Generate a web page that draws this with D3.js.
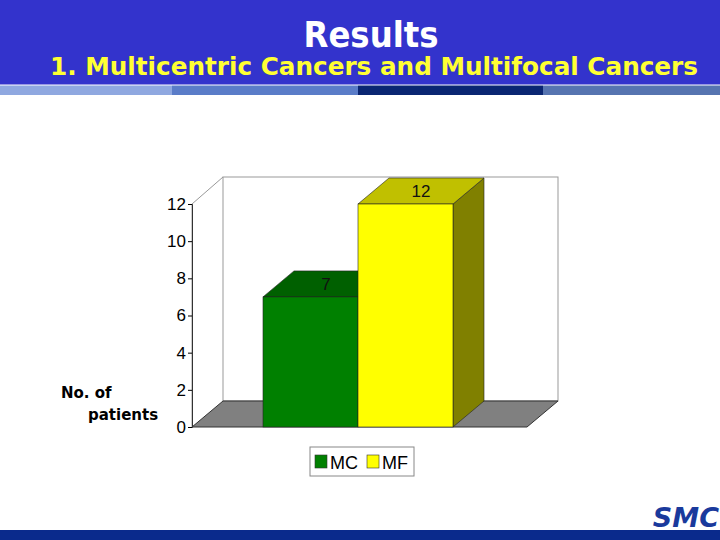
<!DOCTYPE html>
<html><head><meta charset="utf-8">
<script src="https://cdn.jsdelivr.net/npm/d3@7"></script>
<style>body{margin:0}svg{display:block}</style>
</head><body>
<script>
const categories = ['MC', 'MF'];
const values = [7, 12];
const fronts = ['#008000', '#ffff00'];
const tops = ['#006000', '#c0c000'];
const sides = ['#005000', '#808000'];
const yTicks = [0, 2, 4, 6, 8, 10, 12];

const W = 720, H = 540, dx = 31, dy = -26;
const svg = d3.select('body').append('svg').attr('width', W).attr('height', H);
svg.append('rect').attr('width', W).attr('height', H).attr('fill', '#fff');

// header
svg.append('rect').attr('width', W).attr('height', 85).attr('fill', '#3333cc');
[[0, 172, '#8fa8e0'], [172, 358, '#5a7cc8'], [358, 543, '#0a2672'], [543, 720, '#5674b0']]
	.forEach(([a, b, c]) => svg.append('rect').attr('x', a).attr('y', 85).attr('width', b - a).attr('height', 10).attr('fill', c));
svg.append('line').attr('x1', 0).attr('x2', W).attr('y1', 85).attr('y2', 85).attr('stroke', '#fff').attr('stroke-width', 1);
svg.append('text').attr('x', 371).attr('y', 47).attr('text-anchor', 'middle')
	.attr('font-family', 'DejaVu Sans Condensed, sans-serif').attr('font-weight', 'bold').attr('font-size', 36)
	.attr('fill', '#fff').text('Results');
svg.append('text').attr('x', 50).attr('y', 75)
	.attr('font-family', 'DejaVu Sans Condensed, sans-serif').attr('font-weight', 'bold').attr('font-size', 24)
	.attr('fill', '#ffff33').attr('textLength', 648).attr('lengthAdjust', 'spacingAndGlyphs')
	.text('1. Multicentric Cancers and Multifocal Cancers');

// footer
svg.append('rect').attr('x', 0).attr('y', 530).attr('width', W).attr('height', 10).attr('fill', '#0a2a8c');
svg.append('text').attr('x', 719).attr('y', 527).attr('text-anchor', 'end').attr('font-family', 'DejaVu Sans, sans-serif')
	.attr('font-weight', 'bold').attr('font-style', 'italic').attr('font-size', 27).attr('fill', '#1a3a9c').text('SMC');

// chart
const x0 = 192, x1 = 527;
const y = d3.scaleLinear().domain([0, 12]).range([427, 204]);
const x = d3.scaleBand().domain(categories).range([263, 453]).padding(0);
const g = svg.append('g');
g.append('rect').attr('x', x0 + dx).attr('y', 177).attr('width', x1 - x0).attr('height', y(0) + dy - 177)
	.attr('fill', '#fff').attr('stroke', '#999');
g.append('path').attr('d', `M${x0},${y(0)}L${x0},${y(12)}L${x0 + dx},177`).attr('fill', 'none').attr('stroke', '#999');
g.append('path').attr('d', `M${x0},${y(0)}L${x1},${y(0)}L${x1 + dx},${y(0) + dy}L${x0 + dx},${y(0) + dy}Z`)
	.attr('fill', '#808080').attr('stroke', '#333');
const ax = svg.append('g').attr('transform', `translate(${x0},0)`)
	.call(d3.axisLeft(y).tickValues(yTicks).tickSize(4).tickPadding(2));
ax.select('.domain').attr('stroke', '#333');
ax.selectAll('text').attr('font-family', 'Liberation Sans, Arial, sans-serif').attr('font-size', 17).attr('fill', '#000');

categories.forEach((c, i) => {
	const bx = x(c), bw = x.bandwidth(), by = y(values[i]), b0 = y(0);
	g.append('path').attr('d', `M${bx + bw},${b0}L${bx + bw + dx},${b0 + dy}L${bx + bw + dx},${by + dy}L${bx + bw},${by}Z`)
		.attr('fill', sides[i]).attr('stroke', '#222').attr('stroke-width', 0.6);
	g.append('path').attr('d', `M${bx},${by}L${bx + dx},${by + dy}L${bx + bw + dx},${by + dy}L${bx + bw},${by}Z`)
		.attr('fill', tops[i]).attr('stroke', '#222').attr('stroke-width', 0.6);
	g.append('rect').attr('x', bx).attr('y', by).attr('width', bw).attr('height', b0 - by)
		.attr('fill', fronts[i]).attr('stroke', '#222').attr('stroke-width', 0.6);
	g.append('text').attr('x', bx + bw / 2 + dx / 2).attr('y', by + dy / 2 + 6).attr('text-anchor', 'middle')
		.attr('font-family', 'Liberation Sans, Arial, sans-serif').attr('font-size', 17).attr('fill', '#111').text(values[i]);
});

svg.append('text').attr('font-family', 'Verdana, DejaVu Sans, sans-serif').attr('font-weight', 'bold').attr('font-size', 15)
	.selectAll('tspan').data([['No. of', 61, 398], ['patients', 88, 420]]).join('tspan')
	.attr('x', d => d[1]).attr('y', d => d[2]).text(d => d[0]);

const lg = svg.append('g');
lg.append('rect').attr('x', 310).attr('y', 447).attr('width', 104).attr('height', 29).attr('fill', '#fff').attr('stroke', '#888');
categories.forEach((c, i) => {
	const lx = 315 + i * 52;
	lg.append('rect').attr('x', lx).attr('y', 455).attr('width', 12).attr('height', 13).attr('fill', fronts[i]).attr('stroke', '#333').attr('stroke-width', 0.6);
	lg.append('text').attr('x', lx + 15).attr('y', 469).attr('font-family', 'Liberation Sans, Arial, sans-serif')
		.attr('font-size', 18).text(c);
});
</script>
</body></html>
